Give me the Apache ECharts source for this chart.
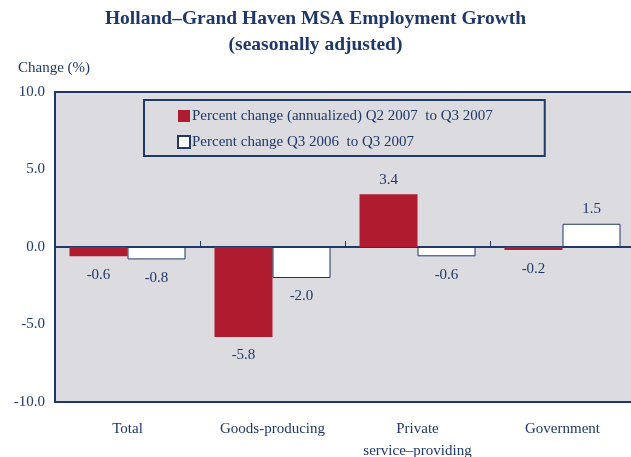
<!DOCTYPE html>
<html><head><meta charset="utf-8">
<script src="https://cdn.jsdelivr.net/npm/echarts@6/dist/echarts.min.js"></script>
<style>html,body{margin:0;padding:0;background:#fff}#c{width:631px;height:457px}</style>
</head><body><div id="c"></div>
<script>
var categories = ['Total', 'Goods-producing', 'Private\nservice\u2013providing', 'Government'];
var quarterly = [-0.6, -5.8, 3.4, -0.2];
var yearly = [-0.8, -2.0, -0.6, 1.5];
var seriesNames = ['Percent change (annualized) Q2 2007  to Q3 2007', 'Percent change Q3 2006  to Q3 2007'];
var yTicks = [-10, -5, 0, 5, 10];

var NAVY = '#1f3868', RED = '#b01c2f', BG = '#dcdbe0';
var FONT = '"Liberation Serif","Times New Roman",serif';

function items(arr) {
  return arr.map(function (v) {
    return { value: v, label: { position: v < 0 ? 'bottom' : 'top', distance: v < 0 ? 11 : 7 } };
  });
}
var lbl = { show: true, color: NAVY, fontFamily: FONT, fontSize: 15,
  formatter: function (p) { return p.value.toFixed(1); } };

var chart = echarts.init(document.getElementById('c'));
chart.setOption({
  animation: false,
  textStyle: { fontFamily: FONT },
  title: [
    { text: 'Holland\u2013Grand Haven MSA Employment Growth\n(seasonally adjusted)', left: 'center', top: 1,
      textStyle: { fontFamily: FONT, fontSize: 19.5, fontWeight: 'bold', color: NAVY, lineHeight: 26 } },
    { text: 'Change (%)', left: 13, top: 56,
      textStyle: { fontFamily: FONT, fontSize: 15, fontWeight: 'normal', color: NAVY } }
  ],
  legend: {
    orient: 'vertical', left: 144, top: 100, icon: 'rect',
    padding: [8, 52, 6, 33], itemGap: 10, itemWidth: 12, itemHeight: 12,
    borderColor: NAVY, borderWidth: 2,
    textStyle: { fontFamily: FONT, fontSize: 15, color: NAVY, lineHeight: 16, padding: [0, 0, 0, -3] },
    data: seriesNames
  },
  grid: { left: 55, top: 92, width: 580, height: 310, outerBoundsMode: 'none', containLabel: false,
    show: true, backgroundColor: BG, borderColor: NAVY, borderWidth: 2 },
  xAxis: [
    { type: 'category', data: categories, axisLine: { onZero: true, lineStyle: { color: NAVY, width: 2 } },
      axisTick: { show: true, inside: true, length: 6, lineStyle: { color: NAVY } }, axisLabel: { show: false } },
    { type: 'category', data: categories, position: 'bottom', axisLine: { show: false, onZero: false },
      axisTick: { show: false },
      axisLabel: { margin: 16, color: NAVY, fontFamily: FONT, fontSize: 15, lineHeight: 22 } }
  ],
  yAxis: {
    type: 'value', min: yTicks[0], max: yTicks[yTicks.length - 1], interval: 5,
    axisLine: { show: true, lineStyle: { color: NAVY, width: 2 } }, axisTick: { show: false },
    splitLine: { show: false },
    axisLabel: { margin: 10, color: NAVY, fontFamily: FONT, fontSize: 15, formatter: function (v) { return v.toFixed(1); } }
  },
  series: [
    { name: seriesNames[0], type: 'bar', xAxisIndex: 0, data: items(quarterly), barGap: '0%', barCategoryGap: '20%',
      itemStyle: { color: RED }, label: lbl },
    { name: seriesNames[1], type: 'bar', xAxisIndex: 0, data: items(yearly), barGap: '0%', barCategoryGap: '20%',
      itemStyle: { color: '#ffffff', borderColor: NAVY, borderWidth: 1 }, label: lbl }
  ]
});
</script></body></html>
